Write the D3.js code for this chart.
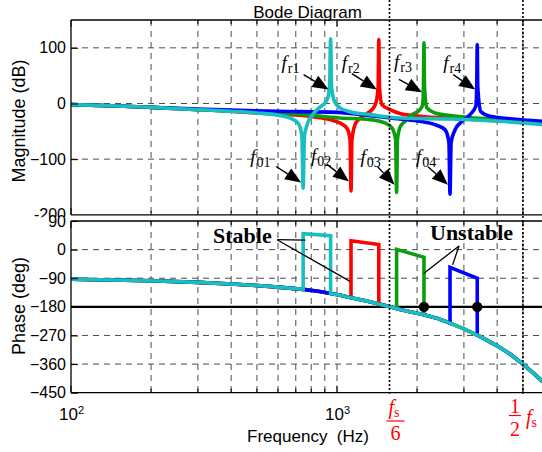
<!DOCTYPE html>
<html>
<head>
<meta charset="utf-8">
<script src="https://cdn.jsdelivr.net/npm/d3@7"></script>
<style>
  body { margin: 0; background: #fff; }
  svg { display: block; }
</style>
</head>
<body>
<svg id="chart" width="542" height="452"></svg>
<script>
// ---------- data ----------
const seriesOrder = ["red", "green", "blue", "cyan"];
const seriesColors = { red: "#ff0000", green: "#0a9e0a", blue: "#0000ff", cyan: "#17bfbf" };

// magnitude [Hz, dB]
const magRed = [[100,-2],[150,-4.5],[200,-7],[300,-11],[400,-14],[500,-17],[600,-19],[727,-21],[850,-25],[942,-29],[1026,-35],[1091,-45],[1120,-65],[1129,-157],[1138,-65],[1177,-35],[1273,-20],[1354,-11],[1400,1],[1428,30],[1436,115],[1444,30],[1476,-2],[1583,-11],[1725,-18],[2052,-23],[2800,-27],[4100,-31],[6000,-36]];
const magGreen = [[100,-2],[150,-4.5],[200,-7],[300,-11],[400,-14],[500,-16],[700,-19],[1026,-26],[1331,-29],[1515,-35],[1610,-44],[1662,-65],[1675,-160],[1688,-65],[1725,-43],[1803,-32],[1915,-20],[2052,-11],[2100,-2],[2113,30],[2123,109],[2133,30],[2178,-8],[2334,-17],[2659,-21.5],[4100,-29],[6000,-35]];
const magBlue = [[100,-2],[150,-4.5],[200,-7],[300,-10],[400,-12],[600,-14],[1000,-16],[1300,-21],[1725,-28],[2052,-32],[2334,-38],[2547,-47],[2635,-70],[2660,-163],[2685,-70],[2781,-47],[2953,-32],[3163,-20],[3325,-5],[3352,30],[3367,106],[3382,30],[3477,-15],[3758,-23],[4470,-27.5],[6000,-32]];
const magCyan = [[100,-2],[150,-4.5],[200,-7],[300,-11],[400,-14],[500,-17],[600,-21],[680,-28],[720,-38],[738,-60],[746,-152],[754,-60],[772,-38],[810,-20],[860,-7],[915,5],[938,30],[946,116],[954,30],[978,4],[1026,-8],[1118,-15],[1330,-20],[1725,-26],[2659,-28],[4100,-32],[6000,-38]];

// phase [Hz, deg]: common trend plus the jump of each series
const phaseBase = [[100,-93],[200,-98],[300,-103],[400,-108],[500,-113],[600,-118],[746,-125],[850,-131],[946,-138],[1040,-144],[1129,-151],[1280,-161],[1436,-171],[1574,-179],[1725,-188],[1900,-196],[2123,-205],[2400,-217],[2660,-231],[3000,-249],[3367,-269],[3700,-287],[4100,-308],[4500,-330],[5000,-360],[5450,-387],[5930,-415]];
const phaseJumpRed = [[1129,-151],[1129,28],[1436,16],[1436,-171]];
const phaseJumpGreen = [[1675,-185],[1675,1],[2123,-24],[2123,-205]];
const phaseJumpBlue = [[2660,-231],[2660,-56],[3367,-90],[3367,-269]];
const phaseJumpCyan = [[746,-125],[746,50],[946,44],[946,-138]];

// axes
const magTicks = [100, 0, -100];
const magLowTick = -200;
const phaseTicks = [90, 0, -90, -180, -270, -360, -450];
const phaseGrid = [0, -90, -270, -360];
const decadeTicks = [100, 1000];
const minorFreqs = [200,300,400,500,600,700,800,900,2000,3000,4000,5000];
const markerFreqs = [1575, 5000];      // f_s/6 and f_s/2 markers
const crossFreqs = [2123, 3367];       // -180 deg crossings (unstable)

// annotations: tip in data units
const peakNotes = [
  { sub: "r1", f: 946, db: 25 }, { sub: "r2", f: 1436, db: 25 },
  { sub: "r3", f: 2123, db: 20 }, { sub: "r4", f: 3367, db: 25 }
];
const notchNotes = [
  { sub: "01", f: 746, db: -142 }, { sub: "02", f: 1129, db: -140 },
  { sub: "03", f: 1675, db: -146 }, { sub: "04", f: 2660, db: -146 }
];

// ---------- layout ----------
const L = 71, R = 545;
const magTop = 20, magBot = 214.8;
const phTop = 221, phBot = 392.7;
const peakOffsets = [
  { tail: [-25,-15], label: [-47,-21] }, { tail: [-25,-16], label: [-35,-21] },
  { tail: [-23,-13], label: [-28,-24] }, { tail: [-22,-15], label: [-32,-21] }
];
const notchOffsets = [
  { tail: [-25,-16], label: [-51,-20] }, { tail: [-22,-17], label: [-38,-19] },
  { tail: [-17,-18], label: [-34,-22] }, { tail: [-20,-18], label: [-32,-22] }
];
const SANS = "'Liberation Sans', Arial, sans-serif";
const SERIF = "'Liberation Serif', 'Times New Roman', serif";
const GRID = "#4d4d4d";

const svg = d3.select("#chart");
const x = d3.scaleLog().domain([100, 10000]).range([L, 603]);
const yMag = d3.scaleLinear().domain([-200, 150]).range([magBot, magTop]);
const yPh = d3.scaleLinear().domain([-450, 90]).range([phBot, phTop]);

const defs = svg.append("defs");
defs.append("clipPath").attr("id", "clipMag").append("rect")
  .attr("x", L).attr("y", magTop).attr("width", R - L).attr("height", magBot - magTop);
defs.append("clipPath").attr("id", "clipPh").append("rect")
  .attr("x", L).attr("y", phTop).attr("width", R - L).attr("height", phBot - phTop);
defs.append("clipPath").attr("id", "clipLow").append("rect")
  .attr("x", 0).attr("y", 0).attr("width", L).attr("height", 217.2);

// ---------- grids ----------
function vGrid(y0, y1) {
  svg.append("g").selectAll("line").data(minorFreqs.concat([1000])).join("line")
    .attr("x1", d => x(d)).attr("x2", d => x(d)).attr("y1", y0).attr("y2", y1)
    .attr("stroke", GRID).attr("stroke-width", 1).attr("stroke-dasharray", "6,5");
}
vGrid(magTop, magBot);
vGrid(phTop, phBot);
svg.append("g").selectAll("line").data(magTicks).join("line")
  .attr("x1", L).attr("x2", R).attr("y1", d => yMag(d)).attr("y2", d => yMag(d))
  .attr("stroke", GRID).attr("stroke-width", 1).attr("stroke-dasharray", "6,5");
svg.append("g").selectAll("line").data(phaseGrid).join("line")
  .attr("x1", L).attr("x2", R).attr("y1", d => yPh(d)).attr("y2", d => yPh(d))
  .attr("stroke", GRID).attr("stroke-width", 1).attr("stroke-dasharray", "6,5");

// ---------- magnitude curves ----------
const magData = { red: magRed, green: magGreen, blue: magBlue, cyan: magCyan };
const magLine = d3.line().x(d => x(d[0])).y(d => yMag(d[1])).curve(d3.curveMonotoneX);
const gMag = svg.append("g").attr("clip-path", "url(#clipMag)");
seriesOrder.forEach(k => {
  gMag.append("path").attr("d", magLine(magData[k]))
    .attr("fill", "none").attr("stroke", seriesColors[k]).attr("stroke-width", 3.6)
    .attr("stroke-linejoin", "round").attr("stroke-linecap", "round");
});

// ---------- phase curves ----------
const jumps = { red: phaseJumpRed, green: phaseJumpGreen, blue: phaseJumpBlue, cyan: phaseJumpCyan };
function phaseSeries(j) {
  const lo = j[0][0], hi = j[j.length - 1][0];
  return phaseBase.filter(p => p[0] < lo).concat(j, phaseBase.filter(p => p[0] > hi));
}
const phLine = d3.line().x(d => x(d[0])).y(d => yPh(d[1]));
const gPh = svg.append("g").attr("clip-path", "url(#clipPh)");
// -180 deg reference
gPh.append("line").attr("x1", L).attr("x2", R).attr("y1", yPh(-180)).attr("y2", yPh(-180))
  .attr("stroke", "#000").attr("stroke-width", 2.4);
seriesOrder.forEach(k => {
  gPh.append("path").attr("d", phLine(phaseSeries(jumps[k])))
    .attr("fill", "none").attr("stroke", seriesColors[k]).attr("stroke-width", 3.6)
    .attr("stroke-linejoin", "miter").attr("stroke-linecap", "butt");
});
gPh.selectAll("circle").data(crossFreqs).join("circle")
  .attr("cx", d => x(d)).attr("cy", yPh(-180)).attr("r", 5.2).attr("fill", "#000");

// ---------- frames and ticks ----------
[[magTop, magBot], [phTop, phBot]].forEach(([t, b]) => {
  svg.append("line").attr("x1", L).attr("x2", R + 5).attr("y1", t).attr("y2", t).attr("stroke", "#000").attr("stroke-width", 1.3);
  svg.append("line").attr("x1", L).attr("x2", R + 5).attr("y1", b).attr("y2", b).attr("stroke", "#000").attr("stroke-width", 1.3);
  svg.append("line").attr("x1", L).attr("x2", L).attr("y1", t).attr("y2", b).attr("stroke", "#000").attr("stroke-width", 1.3);
  const tk = svg.append("g");
  minorFreqs.forEach(f => {
    tk.append("line").attr("x1", x(f)).attr("x2", x(f)).attr("y1", t).attr("y2", t + 4).attr("stroke", "#000");
    tk.append("line").attr("x1", x(f)).attr("x2", x(f)).attr("y1", b).attr("y2", b - 4).attr("stroke", "#000");
  });
  decadeTicks.forEach(f => {
    tk.append("line").attr("x1", x(f)).attr("x2", x(f)).attr("y1", t).attr("y2", t + 7).attr("stroke", "#000");
    tk.append("line").attr("x1", x(f)).attr("x2", x(f)).attr("y1", b).attr("y2", b - 7).attr("stroke", "#000");
  });
});

const magAxis = svg.append("g").attr("transform", `translate(${L},0)`)
  .call(d3.axisLeft(yMag).tickValues(magTicks).tickSizeInner(-7).tickSizeOuter(0).tickPadding(5));
const phAxis = svg.append("g").attr("transform", `translate(${L},0)`)
  .call(d3.axisLeft(yPh).tickValues(phaseTicks).tickSizeInner(-7).tickSizeOuter(0).tickPadding(5));
[magAxis, phAxis].forEach(a => {
  a.select(".domain").remove();
  a.selectAll("text").attr("font-family", SANS).attr("font-size", 16).attr("fill", "#000");
  a.selectAll("line").attr("stroke", "#000");
});
// lowest magnitude label is partly hidden behind the phase axes
svg.append("g").attr("clip-path", "url(#clipLow)")
  .append("text").attr("x", L - 5).attr("y", yMag(magLowTick)).attr("dy", "0.32em")
  .attr("text-anchor", "end").attr("font-family", SANS).attr("font-size", 16).text(String(magLowTick));

const xAxis = svg.append("g").attr("transform", `translate(0,${phBot})`)
  .call(d3.axisBottom(x).tickValues(decadeTicks).tickSizeInner(0).tickSizeOuter(0).tickPadding(15));
xAxis.select(".domain").remove();
xAxis.selectAll("text").attr("font-family", SANS).attr("font-size", 17).attr("fill", "#000")
  .each(function (d) {
    const t = d3.select(this);
    t.text(null);
    t.append("tspan").text("10");
    t.append("tspan").attr("dy", "-0.55em").attr("font-size", 11).text(Math.round(Math.log10(d)));
  });

// ---------- markers ----------
svg.append("g").selectAll("line").data(markerFreqs).join("line")
  .attr("x1", d => x(d)).attr("x2", d => x(d)).attr("y1", 0).attr("y2", phBot + 1)
  .attr("stroke", "#000").attr("stroke-width", 1.6).attr("stroke-dasharray", "2,2");

// ---------- titles ----------
svg.append("text").attr("x", 307.5).attr("y", 18).attr("text-anchor", "middle")
  .attr("font-family", SANS).attr("font-size", 17).text("Bode Diagram");
svg.append("text").attr("x", 308).attr("y", 442).attr("text-anchor", "middle")
  .attr("font-family", SANS).attr("font-size", 17).attr("xml:space", "preserve").text("Frequency  (Hz)");
svg.append("text").attr("transform", "translate(25,121) rotate(-90)").attr("text-anchor", "middle")
  .attr("font-family", SANS).attr("font-size", 18).text("Magnitude (dB)");
svg.append("text").attr("transform", "translate(25,306) rotate(-90)").attr("text-anchor", "middle")
  .attr("font-family", SANS).attr("font-size", 18).text("Phase (deg)");

// ---------- frequency labels with arrows ----------
function arrow(tip, tail) {
  const dx = tip[0] - tail[0], dy = tip[1] - tail[1];
  const len = Math.hypot(dx, dy), ux = dx / len, uy = dy / len;
  const hl = 16, hw = 6.5;
  const bx = tip[0] - ux * hl, by = tip[1] - uy * hl;
  svg.append("line").attr("x1", tail[0]).attr("y1", tail[1]).attr("x2", bx).attr("y2", by)
    .attr("stroke", "#000").attr("stroke-width", 1.4);
  svg.append("polygon").attr("fill", "#000").attr("points",
    [[tip[0], tip[1]], [bx - uy * hw, by + ux * hw], [bx + uy * hw, by - ux * hw]].map(p => p.join(",")).join(" "));
}
function fLabel(px, py, sub) {
  const t = svg.append("text").attr("x", px).attr("y", py).attr("font-family", SERIF).attr("fill", "#000");
  t.append("tspan").attr("font-style", "italic").attr("font-size", 19).text("f");
  t.append("tspan").attr("font-size", 14).attr("dx", 1).attr("dy", 4).text(sub);
}
peakNotes.concat(notchNotes).forEach((n, i) => {
  const off = i < 4 ? peakOffsets[i] : notchOffsets[i - 4];
  const tip = [x(n.f) - 2, yMag(n.db)];
  arrow(tip, [tip[0] + off.tail[0], tip[1] + off.tail[1]]);
  fLabel(tip[0] + off.label[0], tip[1] + off.label[1], n.sub);
});

// ---------- stability notes ----------
svg.append("text").attr("x", 213).attr("y", 243).attr("font-family", SERIF).attr("font-weight", "bold")
  .attr("font-size", 22).text("Stable");
svg.append("text").attr("x", 430).attr("y", 239.5).attr("font-family", SERIF).attr("font-weight", "bold")
  .attr("font-size", 22).text("Unstable");
const stableFrom = [277, 239.7];
[[760, 30], [1120, -100]].forEach(p => {
  svg.append("line").attr("x1", stableFrom[0]).attr("y1", stableFrom[1])
    .attr("x2", x(p[0])).attr("y2", yPh(p[1])).attr("stroke", "#000").attr("stroke-width", 1.3);
});
const unstableFrom = [459, 246];
[[2123, -74], [2720, -48]].forEach(p => {
  svg.append("line").attr("x1", unstableFrom[0]).attr("y1", unstableFrom[1])
    .attr("x2", x(p[0])).attr("y2", yPh(p[1])).attr("stroke", "#000").attr("stroke-width", 1.3);
});

// ---------- f_s fractions ----------
const RED = "#ff0000";
function fs(px, py) {
  const t = svg.append("text").attr("x", px).attr("y", py).attr("font-family", SERIF).attr("fill", RED);
  t.append("tspan").attr("font-style", "italic").attr("font-size", 20).text("f");
  t.append("tspan").attr("font-size", 14).attr("dy", 3).text("s");
}
const m6 = x(markerFreqs[0]);
fs(m6 - 1, 414);
svg.append("line").attr("x1", m6 - 3).attr("x2", m6 + 15).attr("y1", 421).attr("y2", 421).attr("stroke", RED).attr("stroke-width", 1.2);
svg.append("text").attr("x", m6 + 6).attr("y", 440).attr("text-anchor", "middle").attr("font-family", SERIF)
  .attr("font-size", 20).attr("fill", RED).text("6");
const m2 = x(markerFreqs[1]);
svg.append("text").attr("x", m2 - 8).attr("y", 413).attr("text-anchor", "middle").attr("font-family", SERIF)
  .attr("font-size", 20).attr("fill", RED).text("1");
svg.append("line").attr("x1", m2 - 14).attr("x2", m2 - 2).attr("y1", 415.5).attr("y2", 415.5).attr("stroke", RED).attr("stroke-width", 1.2);
svg.append("text").attr("x", m2 - 8).attr("y", 436).attr("text-anchor", "middle").attr("font-family", SERIF)
  .attr("font-size", 20).attr("fill", RED).text("2");
fs(m2 + 3, 424);
</script>
</body>
</html>
